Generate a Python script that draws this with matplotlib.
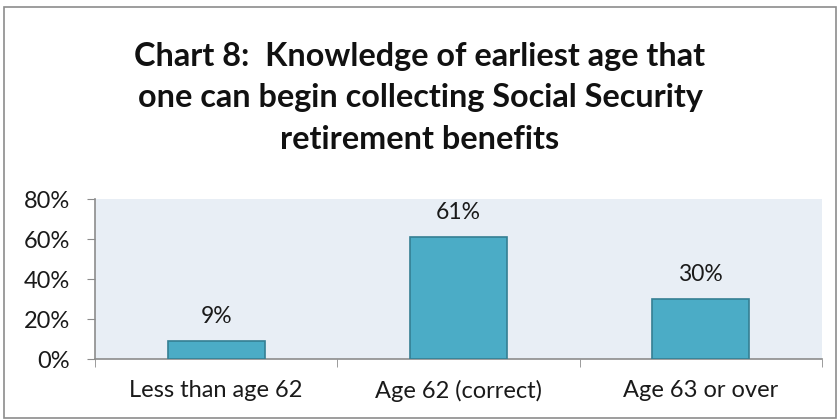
import matplotlib.pyplot as plt
from matplotlib.patches import Rectangle

categories = ["Less than age 62", "Age 62 (correct)", "Age 63 or over"]
values = [9, 61, 30]
yticks = [0, 20, 40, 60, 80]
title = "Chart 8:  Knowledge of earliest age that\none can begin collecting Social Security\nretirement benefits"

plt.rcParams['font.family'] = ['Lato', 'DejaVu Sans']

fig = plt.figure(figsize=(8.4, 4.2), dpi=100)
fig.patch.set_facecolor('white')
fig.patches.append(Rectangle((4 / 840, 2 / 420), 832 / 840, 411 / 420,
                             transform=fig.transFigure, fill=False,
                             edgecolor='#8c8c8c', linewidth=1.2))

ax = fig.add_axes([95 / 840, 1 - 359 / 420, 727 / 840, 160 / 420])
ax.set_facecolor('#e8eef5')

x = range(len(categories))
ax.bar(x, values, width=0.4, color='#4bacc6', edgecolor='#357f93', linewidth=1.2, zorder=3)
for xi, v in zip(x, values):
    ax.text(xi, v + 7, f"{v}%", ha='center', va='bottom', fontsize=16.5, color='#1a1a1a')

ax.set_xlim(-0.5, len(categories) - 0.5)
ax.set_ylim(0, 80)
ax.set_yticks(yticks)
ax.set_yticklabels([f"{t}%" for t in yticks], fontsize=17, color='#1a1a1a')
ax.set_xticks(list(x))
ax.set_xticklabels(categories, fontsize=17, color='#1a1a1a')
ax.set_xticks([-0.5, 0.5, 1.5, 2.5], minor=True)
ax.tick_params(axis='x', which='major', length=0, pad=15)
ax.tick_params(axis='x', which='minor', length=6, color='#8c8c8c', direction='out')
ax.tick_params(axis='y', length=6, color='#8c8c8c', pad=12)
for s in ['top', 'right']:
    ax.spines[s].set_visible(False)
for s in ['left', 'bottom']:
    ax.spines[s].set_color('#8c8c8c')
    ax.spines[s].set_linewidth(1.2)

fig.text(0.5, 1 - 98 / 420, title, ha='center', va='center', fontsize=23.3,
         fontweight='bold', linespacing=1.52, color='#111111')

fig.savefig('out.png', dpi=100)
